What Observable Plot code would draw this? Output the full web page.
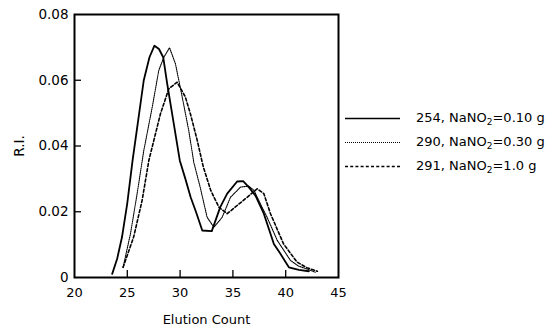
<!DOCTYPE html>
<html>
<head>
<meta charset="utf-8">
<script src="https://cdn.jsdelivr.net/npm/d3@7"></script>
<script src="https://cdn.jsdelivr.net/npm/@observablehq/plot@0.6"></script>
<style>
  html, body { margin: 0; padding: 0; background: #fff; }
  #wrap { position: relative; width: 550px; height: 328px; font-family: "DejaVu Sans", sans-serif; }
  #legend { position: absolute; left: 345px; top: 108px; font-size: 13px; color: #000; }
  .row { position: absolute; left: 0; height: 20px; width: 205px; white-space: nowrap; }
  .row svg { position: absolute; left: 0; top: 0; }
  .row span { position: absolute; left: 71px; top: 2px; }
  sub { font-size: 9px; vertical-align: -3px; line-height: 0; }
</style>
</head>
<body>
<div id="wrap"></div>
<script>
// ---- data ----
const seriesNames = ["254", "290", "291"];
const legendLabels = ["254, NaNO<sub>2</sub>=0.10 g", "290, NaNO<sub>2</sub>=0.30 g", "291, NaNO<sub>2</sub>=1.0 g"];

const count254 = [23.57, 24.04, 24.5, 24.99, 25.5, 26.03, 26.56, 27.1, 27.57, 28.0, 28.4, 28.78, 29.4, 29.97, 30.5, 31.0, 31.5, 32.1, 33.0, 33.8, 34.46, 35.4, 35.97, 36.5, 37.14, 37.93, 38.88, 39.5, 40.3, 41.24, 42.2];
const ri254 = [0.0011, 0.0057, 0.0123, 0.0224, 0.0356, 0.0478, 0.0600, 0.0670, 0.0705, 0.0695, 0.0670, 0.0589, 0.0468, 0.0356, 0.0300, 0.0244, 0.0200, 0.0143, 0.0141, 0.0214, 0.0255, 0.0292, 0.0293, 0.0275, 0.0249, 0.0194, 0.0102, 0.0072, 0.0031, 0.0023, 0.0019];

const count290 = [24.6, 25.3, 25.93, 26.56, 27.36, 27.98, 28.46, 29.0, 29.56, 30.2, 30.82, 31.3, 31.9, 32.56, 33.2, 33.98, 34.77, 35.72, 36.5, 37.0, 37.6, 38.24, 39.2, 40.45, 41.2, 42.0, 42.8];
const ri290 = [0.0031, 0.0133, 0.0255, 0.0386, 0.0518, 0.0630, 0.0670, 0.0699, 0.0650, 0.0549, 0.0447, 0.0350, 0.0275, 0.0183, 0.0153, 0.0183, 0.0244, 0.0275, 0.0278, 0.0265, 0.0224, 0.0183, 0.0113, 0.0052, 0.0035, 0.0026, 0.0016];

const count291 = [24.6, 25.6, 26.4, 27.04, 28.14, 28.93, 29.72, 30.5, 31.0, 31.6, 32.2, 32.9, 33.67, 34.46, 35.4, 36.35, 37.3, 37.93, 38.56, 39.8, 41.07, 42.0, 43.0];
const ri291 = [0.0031, 0.0123, 0.0234, 0.0356, 0.0498, 0.0574, 0.0594, 0.0549, 0.0495, 0.0420, 0.0336, 0.0265, 0.0214, 0.0194, 0.0219, 0.0244, 0.0270, 0.0255, 0.0194, 0.0102, 0.0047, 0.0030, 0.0019];

const xTicks = [20, 25, 30, 35, 40, 45];
const yTicks = [0, 0.02, 0.04, 0.06, 0.08];
const xDomain = [20, 45];
const yDomain = [0, 0.08];

// ---- build table ----
const toRows = (name, xs, ys) => xs.map((x, i) => ({series: name, count: x, ri: ys[i]}));
const rows254 = toRows(seriesNames[0], count254, ri254);
const rows290 = toRows(seriesNames[1], count290, ri290);
const rows291 = toRows(seriesNames[2], count291, ri291);

const W = 550, H = 328, mL = 74, mR = 212, mT = 14, mB = 51;
const plotW = W - mL - mR, plotH = H - mT - mB;
const tickLen = 7;
// inward tick length expressed in data units of each scale
const xTickSpan = (xDomain[1] - xDomain[0]) * tickLen / plotW;
const yTickSpan = (yDomain[1] - yDomain[0]) * tickLen / plotH;
const innerX = xTicks.slice(1, -1);
const innerY = yTicks.slice(1, -1);

const chart = Plot.plot({
  width: W,
  height: H,
  marginLeft: mL,
  marginRight: mR,
  marginTop: mT,
  marginBottom: mB,
  style: {fontFamily: "DejaVu Sans, sans-serif", fontSize: "13px", color: "#000", background: "#fff", overflow: "visible"},
  x: {domain: xDomain},
  y: {domain: yDomain},
  marks: [
    Plot.axisX({ticks: xTicks, tickSize: 0, tickPadding: 10, tickFormat: d => String(d), label: "Elution Count", labelArrow: "none", labelAnchor: "center", labelOffset: 46, fontSize: 13}),
    Plot.axisY({ticks: yTicks, tickSize: 0, tickPadding: 6, tickFormat: d => d === 0 ? "0" : d.toFixed(2), label: "R.I.", labelArrow: "none", labelAnchor: "center", labelOffset: 60, fontSize: 13.5}),
    Plot.ruleX(innerX, {x: d => d, y1: yDomain[0], y2: yDomain[0] + yTickSpan, stroke: "#000", strokeWidth: 1.3}),
    Plot.ruleY(innerY, {y: d => d, x1: xDomain[0], x2: xDomain[0] + xTickSpan, stroke: "#000", strokeWidth: 1.3}),
    Plot.lineY(rows291, {x: "count", y: "ri", stroke: "#000", strokeWidth: 1.6, strokeDasharray: "3,2.2"}),
    Plot.lineY(rows290, {x: "count", y: "ri", stroke: "#000", strokeWidth: 1.1, strokeDasharray: "1,1"}),
    Plot.lineY(rows254, {x: "count", y: "ri", stroke: "#000", strokeWidth: 1.8}),
    Plot.frame({stroke: "#000", strokeWidth: 2})
  ]
});

const wrap = document.getElementById("wrap");
wrap.appendChild(chart);

// ---- legend ----
const legend = document.createElement("div");
legend.id = "legend";
const dashes = [null, "1,1", "3,2.2"];
const widths = [1.6, 1.1, 1.6];
const rowTops = [0, 24, 48];
legendLabels.forEach((lab, i) => {
  const r = document.createElement("div");
  r.className = "row";
  r.style.top = rowTops[i] + "px";
  r.innerHTML = `<svg width="56" height="20"><line x1="0" x2="55" y1="10.5" y2="10.5" stroke="#000" stroke-width="${widths[i]}" ${dashes[i] ? `stroke-dasharray="${dashes[i]}"` : ""}/></svg><span>${lab}</span>`;
  legend.appendChild(r);
});
wrap.appendChild(legend);
</script>
</body>
</html>
